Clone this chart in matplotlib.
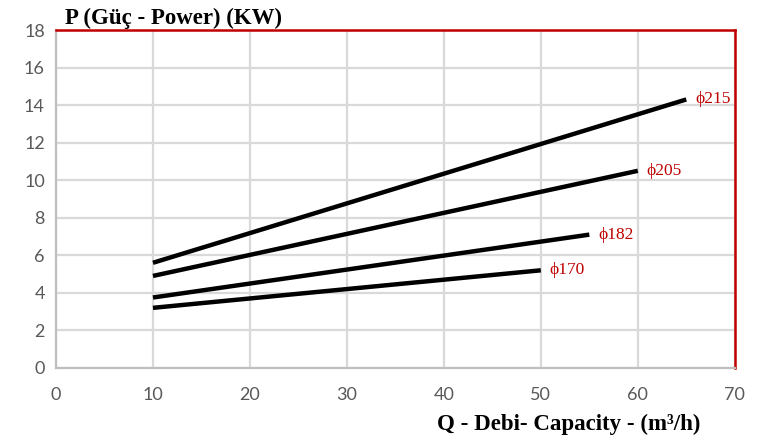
import matplotlib
matplotlib.use("Agg")
import matplotlib.pyplot as plt

labels = ["\u03d5215", "\u03d5205", "\u03d5182", "\u03d5170"]
q_start = [10, 10, 10, 10]
q_end = [65, 60, 55, 50]
p_start = [5.6, 4.9, 3.75, 3.2]
p_end = [14.3, 10.5, 7.1, 5.2]
xticks = [0, 10, 20, 30, 40, 50, 60, 70]
yticks = [0, 2, 4, 6, 8, 10, 12, 14, 16, 18]

fig = plt.figure(figsize=(7.82, 4.38), dpi=100)
ax = fig.add_axes([0.0716, 0.160, 0.868, 0.7715])
ax.set_xlim(0, 70)
ax.set_ylim(0, 18)
ax.set_xticks(xticks)
ax.set_yticks(yticks)
ax.grid(True, color="#d9d9d9", linewidth=1.6)
ax.set_axisbelow(True)
for i in range(len(labels)):
    ax.plot([q_start[i], q_end[i]], [p_start[i], p_end[i]], color="black",
            linewidth=3.2, solid_capstyle="butt")
    ax.text(q_end[i] + 0.9, p_end[i], labels[i], color="#c00000",
            fontsize=12.5, family="Liberation Serif", va="center", ha="left")

for s in ["left", "bottom"]:
    ax.spines[s].set_color("#bfbfbf")
    ax.spines[s].set_linewidth(1.6)
for s in ["top", "right"]:
    ax.spines[s].set_color("#c00000")
    ax.spines[s].set_linewidth(1.8)
ax.tick_params(length=0, labelsize=13, labelcolor="#595959", pad=8)
for t in ax.get_xticklabels() + ax.get_yticklabels():
    t.set_family("Lato")
ax.tick_params(axis="x", pad=14)

fig.text(0.083, 0.958, "P (Güç - Power) (KW)", fontsize=16.5, fontweight="bold",
         family="Liberation Serif", ha="left", va="center")
fig.text(0.895, 0.03, "Q - Debi- Capacity - (m\u00b3/h)", fontsize=16.5, fontweight="bold",
         family="Liberation Serif", ha="right", va="center")

fig.savefig("out.png", dpi=100)
